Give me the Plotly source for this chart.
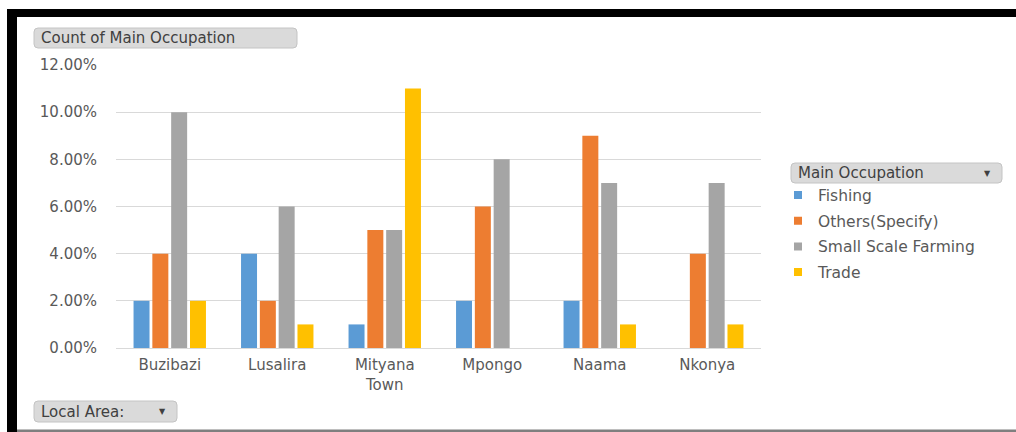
import plotly.graph_objects as go

W, H = 1016, 432

categories = ["Buzibazi", "Lusalira", "Mityana<br>Town", "Mpongo", "Naama", "Nkonya"]
series_names = ["Fishing", "Others(Specify)", "Small Scale Farming", "Trade"]
fishing = [2, 4, 1, 2, 2, None]
others = [4, 2, 5, 6, 9, 4]
farming = [10, 6, 5, 8, 7, 7]
trade = [2, 1, 11, None, 1, 1]
colors = ["#5B9BD5", "#ED7D31", "#A5A5A5", "#FFC000"]
y_ticks = [0, 2, 4, 6, 8, 10, 12]

FONT = "DejaVu Sans"
TXT = "#595959"

def px(x):
    return x / W

def py(y):
    return 1 - y / H

fig = go.Figure()
for name, vals, col in zip(series_names, [fishing, others, farming, trade], colors):
    fig.add_trace(go.Bar(
        x=categories,
        y=[None if v is None else v / 100 for v in vals],
        name=name, legendgroup=name, showlegend=False,
        marker=dict(color=col, line=dict(width=0)),
    ))
# legend entries with small square swatches
for name, col in zip(series_names, colors):
    fig.add_trace(go.Scatter(
        x=[None], y=[None], mode="markers", name=name, legendgroup=name,
        marker=dict(symbol="square", size=8, color=col), hoverinfo="skip",
    ))

shapes = []
# frame
shapes.append(dict(type="rect", xref="paper", yref="paper", x0=px(7), x1=px(1016), y0=py(17), y1=py(9),
                   fillcolor="black", line=dict(width=0), layer="above"))
shapes.append(dict(type="rect", xref="paper", yref="paper", x0=px(7), x1=px(17), y0=py(432), y1=py(9),
                   fillcolor="black", line=dict(width=0), layer="above"))
shapes.append(dict(type="rect", xref="paper", yref="paper", x0=px(17), x1=px(1016), y0=py(432), y1=py(429.5),
                   fillcolor="#7f7f7f", line=dict(width=0), layer="above"))


def button(x0, y0, x1, y1, r=4):
    path = (f"M{px(x0 + r)},{py(y0)} L{px(x1 - r)},{py(y0)} Q{px(x1)},{py(y0)} {px(x1)},{py(y0 + r)} "
            f"L{px(x1)},{py(y1 - r)} Q{px(x1)},{py(y1)} {px(x1 - r)},{py(y1)} "
            f"L{px(x0 + r)},{py(y1)} Q{px(x0)},{py(y1)} {px(x0)},{py(y1 - r)} "
            f"L{px(x0)},{py(y0 + r)} Q{px(x0)},{py(y0)} {px(x0 + r)},{py(y0)} Z")
    return dict(type="path", xref="paper", yref="paper", path=path,
                fillcolor="#dadada", line=dict(color="#c4c4c4", width=1), layer="above")

shapes.append(button(34, 28, 297, 48))
shapes.append(button(34, 401, 177, 422))
shapes.append(button(791, 163, 1002, 183))

BTN = dict(family=FONT, size=15, color="#404040")
annotations = [
    dict(text="Count of Main Occupation", x=px(39), y=py(38), xref="paper", yref="paper",
         xanchor="left", yanchor="middle", showarrow=False, font=BTN),
    dict(text="Local Area:", x=px(39), y=py(411.5), xref="paper", yref="paper",
         xanchor="left", yanchor="middle", showarrow=False, font=BTN),
    dict(text="▼", x=px(162), y=py(411), xref="paper", yref="paper",
         xanchor="center", yanchor="middle", showarrow=False, font=dict(family=FONT, size=8, color="#404040")),
    dict(text="Main Occupation", x=px(796), y=py(173), xref="paper", yref="paper",
         xanchor="left", yanchor="middle", showarrow=False, font=BTN),
    dict(text="▼", x=px(987), y=py(173), xref="paper", yref="paper",
         xanchor="center", yanchor="middle", showarrow=False, font=dict(family=FONT, size=8, color="#404040")),
]

fig.update_layout(
    width=W, height=H,
    margin=dict(l=0, r=0, t=0, b=0),
    paper_bgcolor="white", plot_bgcolor="white",
    barmode="group", bargap=0.30, bargroupgap=0.15,
    font=dict(family=FONT, size=15, color=TXT),
    shapes=shapes, annotations=annotations,
    legend=dict(x=px(778), y=py(178.5), xanchor="left", yanchor="top",
                font=dict(family=FONT, size=15.5, color=TXT), bgcolor="rgba(0,0,0,0)",
                traceorder="grouped", tracegroupgap=2.5),
    xaxis=dict(domain=[px(116), px(761)], showgrid=False, showline=True, linecolor="#d9d9d9",
               linewidth=1, ticks="", tickfont=dict(family=FONT, size=15, color=TXT), automargin=False,
               ticklabelstandoff=3, fixedrange=True),
    yaxis=dict(domain=[py(348), py(65)], range=[0, 0.12], tickvals=[v / 100 for v in y_ticks],
               tickformat=".2%", showgrid=True, gridcolor="#d9d9d9", gridwidth=1, zeroline=False,
               showline=False, ticks="", ticklabelstandoff=18,
               tickfont=dict(family=FONT, size=15, color=TXT), automargin=False, fixedrange=True),
)

fig.write_html("out.html")
